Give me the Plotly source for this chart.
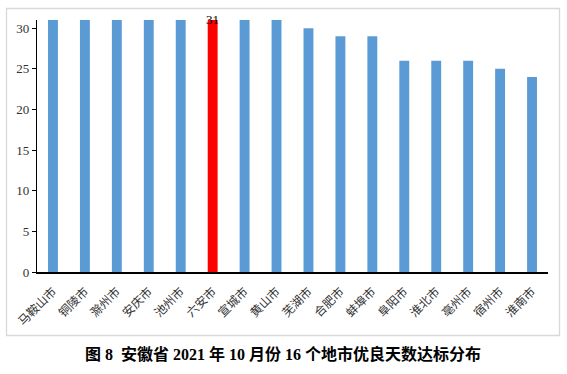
import plotly.graph_objects as go

cities = ["马鞍山市", "铜陵市", "滁州市", "安庆市", "池州市", "六安市", "宣城市", "黄山市",
          "芜湖市", "合肥市", "蚌埠市", "阜阳市", "淮北市", "亳州市", "宿州市", "淮南市"]
days = [31, 31, 31, 31, 31, 31, 31, 31, 30, 29, 29, 26, 26, 26, 25, 24]
highlight = "六安市"
y_ticks = [0, 5, 10, 15, 20, 25, 30]
title_text = "图 8  安徽省 2021 年 10 月份 16 个地市优良天数达标分布"

colors = ["#FF0000" if c == highlight else "#5B9BD5" for c in cities]

W, H = 567, 374
L, R, T, B = 37, 19, 20, 102
pw, ph = W - L - R, H - T - B

fig = go.Figure()
fig.add_trace(go.Bar(x=cities, y=days, marker=dict(color=colors, line=dict(width=0)),
                     width=0.31, hoverinfo="x+y"))

hi = cities.index(highlight)
fig.add_annotation(x=cities[hi], y=days[hi], text=str(days[hi]), showarrow=False,
                   yanchor="middle", yshift=1,
                   font=dict(family="Liberation Serif", size=13, color="#000"))

def px_x(p):
    return (p - L) / pw

def px_y(p):
    return (H - B - p) / ph

fig.add_shape(type="rect", xref="paper", yref="paper",
              x0=px_x(6.5), x1=px_x(559.5), y0=px_y(335.5), y1=px_y(8.5),
              line=dict(color="#D9D9D9", width=1.3), fillcolor="rgba(0,0,0,0)", layer="below")

fig.add_annotation(xref="paper", yref="paper", x=px_x(283), y=px_y(354),
                   text="<b>" + title_text + "</b>", showarrow=False,
                   xanchor="center", yanchor="middle",
                   font=dict(family="Liberation Serif, Noto Sans CJK SC", size=16, color="#000"))

fig.update_layout(
    width=W, height=H, margin=dict(l=L, r=R, t=T, b=B, autoexpand=False),
    plot_bgcolor="white", paper_bgcolor="white", showlegend=False,
    bargap=0.69,
)
fig.update_xaxes(
    type="category", tickangle=-45, showgrid=False, showline=True,
    linecolor="#000", linewidth=1.5, ticks="", automargin=False,
    ticklabelstandoff=6,
    tickfont=dict(family="Noto Sans CJK SC", size=12, color="#333"),
)
fig.update_yaxes(
    range=[0, 31], tickvals=y_ticks, showgrid=False, showline=True,
    linecolor="#000", linewidth=1.3, ticks="outside", ticklen=4, tickcolor="#000",
    tickfont=dict(family="Liberation Serif", size=13, color="#333"),
    zeroline=False, automargin=False,
)

fig.write_html("out.html", config={"displayModeBar": False},
               post_script="document.body.style.margin='0';document.body.style.overflow='hidden';")
